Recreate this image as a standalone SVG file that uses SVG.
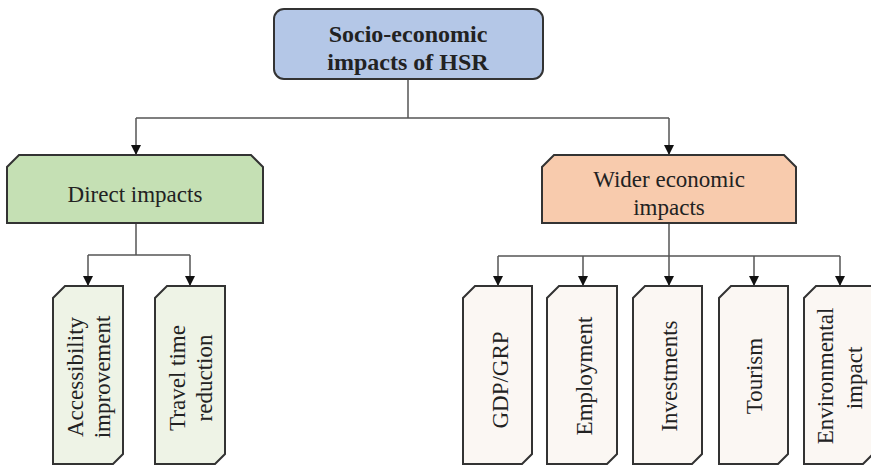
<svg xmlns="http://www.w3.org/2000/svg" width="871" height="466" viewBox="0 0 871 466">
<defs>
<style>
.box{stroke:#333;stroke-width:2;}
.blue{fill:#b4c7e7;}
.green{fill:#c5e0b4;}
.orange{fill:#f8cbad;}
.lgreen{fill:#eef3e6;}
.lpeach{fill:#fbf7f3;}
.t{font-size:23px;fill:#222;text-anchor:middle;}
.tb{font-size:24px;font-weight:bold;fill:#222;text-anchor:middle;}
.c{fill:none;stroke:#555;stroke-width:1.5;}
</style>
<marker id="ah" markerUnits="userSpaceOnUse" markerWidth="10" markerHeight="10" refX="10" refY="5" orient="auto">
<path d="M0,0 L10,5 L0,10 z" fill="#111"/>
</marker>
</defs>
<rect width="871" height="466" fill="#fff"/>
<g id="connectors">
<path class="c" d="M408,79 V118 M136,118 H669"/>
<path class="c" d="M136,118 V155" marker-end="url(#ah)"/>
<path class="c" d="M669,118 V155" marker-end="url(#ah)"/>
<path class="c" d="M136,223 V255 M88,255 H190"/>
<path class="c" d="M88,255 V286" marker-end="url(#ah)"/>
<path class="c" d="M190,255 V286" marker-end="url(#ah)"/>
<path class="c" d="M669,223 V256 M498,256 H840"/>
<path class="c" d="M498,256 V286" marker-end="url(#ah)"/>
<path class="c" d="M583,256 V286" marker-end="url(#ah)"/>
<path class="c" d="M669,256 V286" marker-end="url(#ah)"/>
<path class="c" d="M754,256 V286" marker-end="url(#ah)"/>
<path class="c" d="M840,256 V286" marker-end="url(#ah)"/>
</g>
<g font-family="Liberation Serif, serif">
<g id="root">
<rect class="box blue" x="274" y="9" width="269" height="70" rx="10"/>
<text class="tb" x="408" y="42">Socio-economic</text>
<text class="tb" x="408" y="70">impacts of HSR</text>
</g>
<g id="direct">
<path class="box green" d="M7,223 L7,167 L19,155 L251,155 L263,167 L263,223 Z"/>
<text class="t" x="135" y="202">Direct impacts</text>
</g>
<g id="wider">
<path class="box orange" d="M542,223 L542,167 L554,155 L784,155 L796,167 L796,223 Z"/>
<text class="t" x="669" y="187">Wider economic</text>
<text class="t" x="669" y="215">impacts</text>
</g>
<g id="accessibility">
<path class="box lgreen" d="M53,464 L53,298 L65,286 L123,286 L123,454 L113,464 Z"/>
<text class="t" transform="translate(83,377) rotate(-90)">Accessibility</text>
<text class="t" transform="translate(110,377) rotate(-90)">improvement</text>
</g>
<g id="travel">
<path class="box lgreen" d="M155,464 L155,298 L167,286 L225,286 L225,454 L215,464 Z"/>
<text class="t" transform="translate(185,378) rotate(-90)">Travel time</text>
<text class="t" transform="translate(212,378) rotate(-90)">reduction</text>
</g>
<g id="gdp">
<path class="box lpeach" d="M463,464 L463,298 L475,286 L532,286 L532,454 L522,464 Z"/>
<text class="t" transform="translate(508,380) rotate(-90)">GDP/GRP</text>
</g>
<g id="employment">
<path class="box lpeach" d="M547,464 L547,298 L559,286 L617,286 L617,454 L607,464 Z"/>
<text class="t" transform="translate(592,376) rotate(-90)">Employment</text>
</g>
<g id="investments">
<path class="box lpeach" d="M633,464 L633,298 L645,286 L702,286 L702,454 L692,464 Z"/>
<text class="t" transform="translate(677,376) rotate(-90)">Investments</text>
</g>
<g id="tourism">
<path class="box lpeach" d="M719,464 L719,298 L731,286 L788,286 L788,454 L778,464 Z"/>
<text class="t" transform="translate(762,376) rotate(-90)">Tourism</text>
</g>
<g id="environmental">
<path class="box lpeach" d="M804,464 L804,298 L816,286 L873,286 L873,454 L863,464 Z"/>
<text class="t" transform="translate(833,376) rotate(-90)">Environmental</text>
<text class="t" transform="translate(862,378) rotate(-90)">impact</text>
</g>
</g>
</svg>
